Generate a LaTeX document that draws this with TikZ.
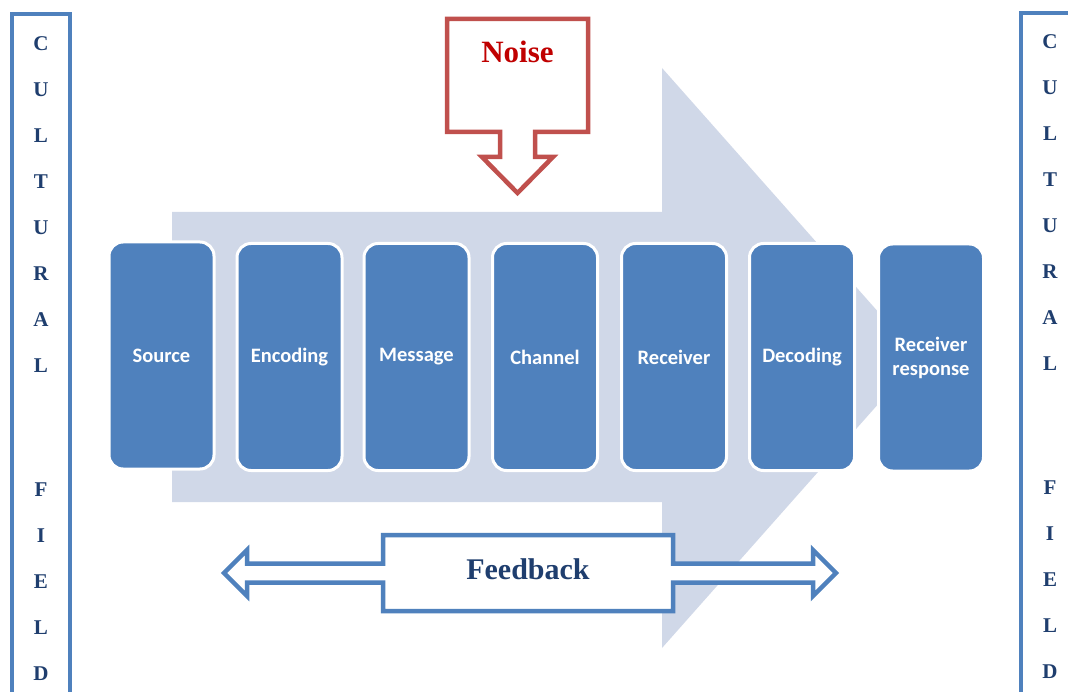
\documentclass[tikz,border=0pt]{standalone}
\usepackage{fontspec}
\setmainfont{Liberation Serif}
\newfontfamily\boxfont{Carlito}
\definecolor{stepblue}{RGB}{79,129,189}
\definecolor{flowgray}{RGB}{208,216,232}
\definecolor{navy}{RGB}{31,62,110}
\definecolor{noiseline}{RGB}{192,80,77}
\definecolor{noisetext}{RGB}{192,0,0}
\tikzset{
  stepbox/.style={draw=white, line width=3pt, fill=stepblue, rounded corners=14pt,
    minimum width=105pt, minimum height=227pt, inner sep=2pt,
    font=\boxfont\bfseries\fontsize{20.5}{27}\selectfont, text=white, align=center},
  fieldframe/.style={draw=stepblue, line width=4pt},
  fieldletter/.style={font=\bfseries\fontsize{21}{21}\selectfont, text=navy, inner sep=0pt},
  calloutline/.style={line width=4.5pt, line join=miter, fill=white},
}
\begin{document}
\begin{tikzpicture}[x=1pt, y=-1pt]
\useasboundingbox (0,0) rectangle (1068,692);
\clip (0,0) rectangle (1068,692);
\fill[white] (0,0) rectangle (1068,692);

% broad flow arrow behind the steps
\fill[flowgray] (172,212) -- (662,212) -- (662,68) -- (919,358) -- (662,648)
  -- (662,502) -- (172,502) -- cycle;

% cultural field frames on both sides
\draw[fieldframe] (12,14) rectangle (70,720);
\draw[fieldframe] (1021,13) rectangle (1079,720);
\foreach \ch [count=\i] in {C,U,L,T,U,R,A,L} {
  \node[fieldletter] (lw\i) at (41,{44+46*(\i-1)}) {\ch};
  \node[fieldletter] (rw\i) at (1050,{42+46*(\i-1)}) {\ch};
}
\foreach \ch [count=\i] in {F,I,E,L,D} {
  \node[fieldletter] (lf\i) at (41,{490+46*(\i-1)}) {\ch};
  \node[fieldletter] (rf\i) at (1050,{488+46*(\i-1)}) {\ch};
}

% communication steps
\node[stepbox] (source)   at (161.5,355.5) {Source};
\node[stepbox] (encoding) at (289.5,357)   {Encoding};
\node[stepbox] (message)  at (416.5,357)   {Message};
\node[stepbox] (channel)  at (545,357)     {Channel};
\node[stepbox] (receiver) at (674,357)     {Receiver};
\node[stepbox] (decoding) at (802,357)     {Decoding};
\node[stepbox] (response) at (931,357.5)   {Receiver\\[-3pt]response};

% noise callout pointing down onto the channel
\draw[calloutline, draw=noiseline] (447,19) -- (588,19) -- (588,132) -- (535,132)
  -- (535,157) -- (553,157) -- (517.5,193) -- (482,157) -- (500,157)
  -- (500,132) -- (447,132) -- cycle;
\node[font=\bfseries\fontsize{31}{31}\selectfont, text=noisetext] (noise) at (517.5,52) {Noise};

% feedback double arrow
\draw[calloutline, draw=stepblue] (383,535) -- (673,535) -- (673,563.5) -- (813,563.5)
  -- (813,550) -- (836,573) -- (813,596) -- (813,582.5) -- (673,582.5)
  -- (673,611) -- (383,611) -- (383,582.5) -- (247,582.5) -- (247,596)
  -- (224,573) -- (247,550) -- (247,563.5) -- (383,563.5) -- cycle;
\node[font=\bfseries\fontsize{30}{30}\selectfont, text=navy] (feedback) at (528,569) {Feedback};
\end{tikzpicture}
\end{document}
